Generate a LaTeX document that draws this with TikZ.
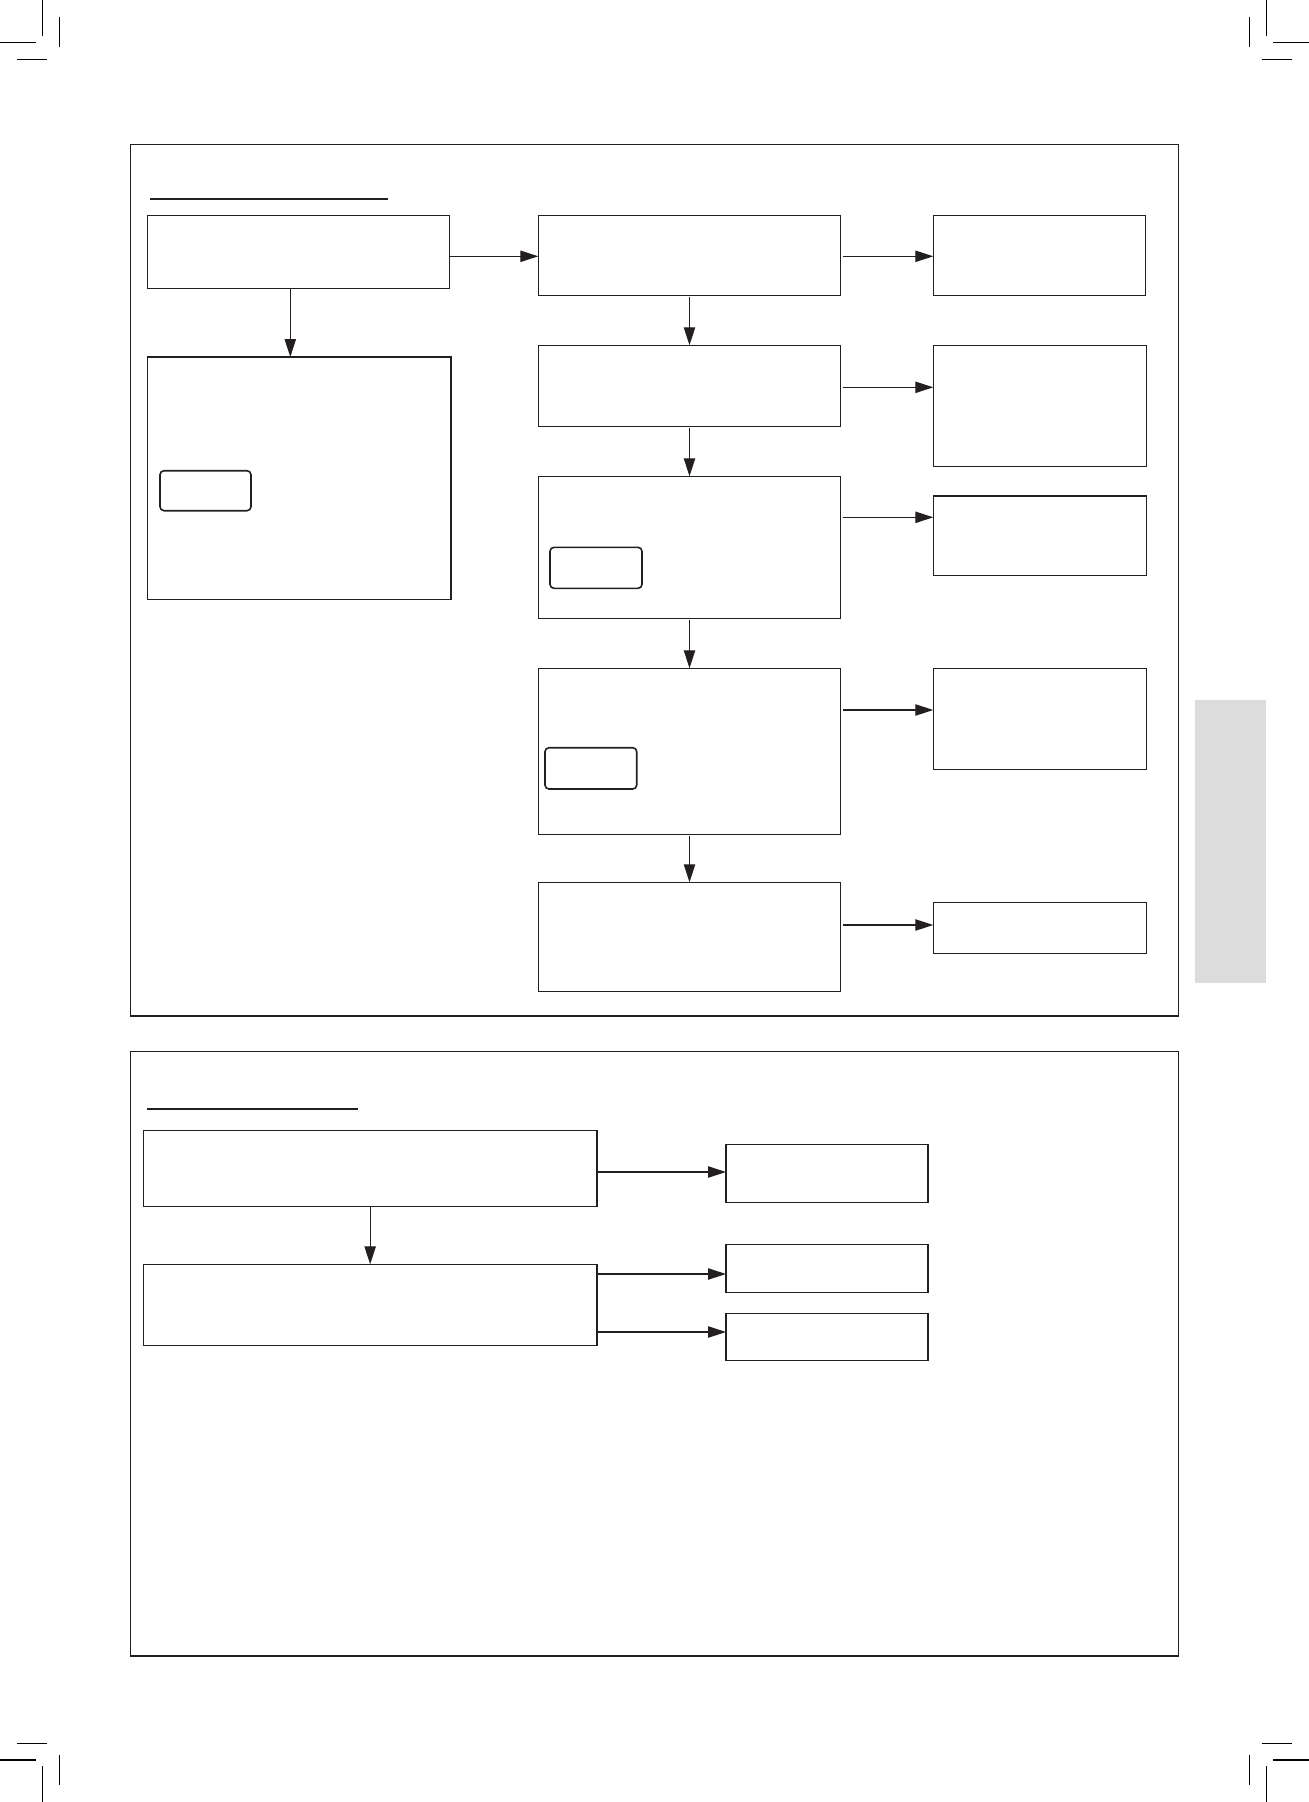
\documentclass[tikz,border=0pt]{standalone}
\usetikzlibrary{arrows.meta,fit,calc}
\definecolor{ink}{RGB}{35,31,32}
\definecolor{bargrey}{RGB}{220,220,220}
\begin{document}
\begin{tikzpicture}[x=0.75pt,y=-0.75pt,
  box/.style={draw=ink,line width=0.95pt,rectangle,inner sep=0pt,outer sep=0pt},
  frame/.style={draw=ink,line width=1pt,rectangle,inner sep=0pt,outer sep=0pt},
  lcd/.style={draw=ink,line width=1.2pt,rectangle,rounded corners=3pt,inner sep=0pt,outer sep=0pt},
  arr/.style={draw=ink,line width=0.95pt,-{Triangle[length=13.5pt,width=8.5pt]}},
  crop/.style={draw=black,line width=0.9pt},
  uline/.style={draw=ink,line width=1.6pt}]
\useasboundingbox (0,0) rectangle (1309,1802);

% crop marks
\draw[crop] (42.3,0)--(42.3,35.7) (59.3,17)--(59.3,46.7) (0,42.3)--(35.7,42.3) (17,59.3)--(46.7,59.3);
\draw[crop] (1266.3,0)--(1266.3,35.7) (1249.3,17)--(1249.3,46.7) (1273.3,42.3)--(1309,42.3) (1261.7,59.3)--(1292,59.3);
\draw[crop] (42.3,1766)--(42.3,1802) (59.3,1755.3)--(59.3,1785) (0,1760)--(35.7,1760) (17,1743.3)--(46.7,1743.3);
\draw[crop] (1266.3,1766)--(1266.3,1802) (1249.3,1755.3)--(1249.3,1785) (1273.3,1760)--(1309,1760) (1261.7,1743.3)--(1292,1743.3);

% grey side tab
\fill[bargrey] (1195,700) rectangle (1266.3,982.7);

% frames
\node[frame,fit={(130.3,144.3) (1178.3,1016)}] (F1) {};
\node[frame,fit={(130.3,1051.3) (1178.3,1656)}] (F2) {};

% heading underlines
\draw[uline] (150,199) -- (388,199);
\draw[uline] (147,1109) -- (358,1109);

% upper section boxes
\node[box,fit={(147.3,215.3) (449.3,288.3)}] (A) {};
\node[box,fit={(147.3,357) (451,599.3)}] (L) {};
\node[box,fit={(538.3,215.3) (840.7,295.3)}] (M1) {};
\node[box,fit={(538.3,345.3) (840.7,426.3)}] (M2) {};
\node[box,fit={(538.3,476.3) (840.7,618.3)}] (M3) {};
\node[box,fit={(538.3,668.3) (840.7,834.3)}] (M4) {};
\node[box,fit={(538.3,882.3) (840.7,991.3)}] (M5) {};
\node[box,fit={(933.3,215.3) (1145.7,295.3)}] (R1) {};
\node[box,fit={(933.3,345.3) (1146.7,466.7)}] (R2) {};
\node[box,fit={(933.3,496) (1146.7,575.3)}] (R3) {};
\node[box,fit={(933.3,668.3) (1146.7,769.3)}] (R4) {};
\node[box,fit={(933.3,902.3) (1146.7,953.3)}] (R5) {};

% display-shaped inner boxes
\node[lcd,fit={(160,470.7) (251,510.7)}] (I1) {};
\node[lcd,fit={(550,547.3) (642,588.3)}] (I2) {};
\node[lcd,fit={(545,747.7) (636.7,789)}] (I3) {};

% arrow levels
\coordinate (ya) at (0,256.3);
\coordinate (y2) at (0,387.3);
\coordinate (y3) at (0,517.3);
\coordinate (y4) at (0,710);
\coordinate (y5) at (0,925);
\coordinate (xa) at (290.3,0);

\draw[arr] (A.east |- ya) -- (M1.west |- ya);
\draw[arr] (A.south -| xa) -- (L.north -| xa);
\draw[arr,shorten <=2pt] (M1.east |- ya) -- (R1.west |- ya);
\draw[arr,shorten <=2pt] (M2.east |- y2) -- (R2.west |- y2);
\draw[arr,shorten <=2pt] (M3.east |- y3) -- (R3.west |- y3);
\draw[arr,shorten <=2pt] (M4.east |- y4) -- (R4.west |- y4);
\draw[arr,shorten <=2pt] (M5.east |- y5) -- (R5.west |- y5);
\draw[arr,shorten <=1pt] (M1.south) -- (M2.north);
\draw[arr,shorten <=1pt] (M2.south) -- (M3.north);
\draw[arr,shorten <=1pt] (M3.south) -- (M4.north);
\draw[arr,shorten <=1pt] (M4.south) -- (M5.north);

% lower section boxes
\node[box,fit={(143.3,1130.3) (597,1206.7)}] (B1) {};
\node[box,fit={(143.3,1264.3) (597,1345.3)}] (B2) {};
\node[box,fit={(726,1144.3) (928,1202.3)}] (C1) {};
\node[box,fit={(726,1244.7) (928,1292.3)}] (C2) {};
\node[box,fit={(726,1313.3) (928,1360.3)}] (C3) {};

\coordinate (yb1) at (0,1172);
\coordinate (yb2) at (0,1274);
\coordinate (yb3) at (0,1332);
\draw[arr] (B1.east |- yb1) -- (C1.west |- yb1);
\draw[arr] (B2.east |- yb2) -- (C2.west |- yb2);
\draw[arr] (B2.east |- yb3) -- (C3.west |- yb3);
\draw[arr] (B1.south) -- (B2.north);
\end{tikzpicture}
\end{document}
